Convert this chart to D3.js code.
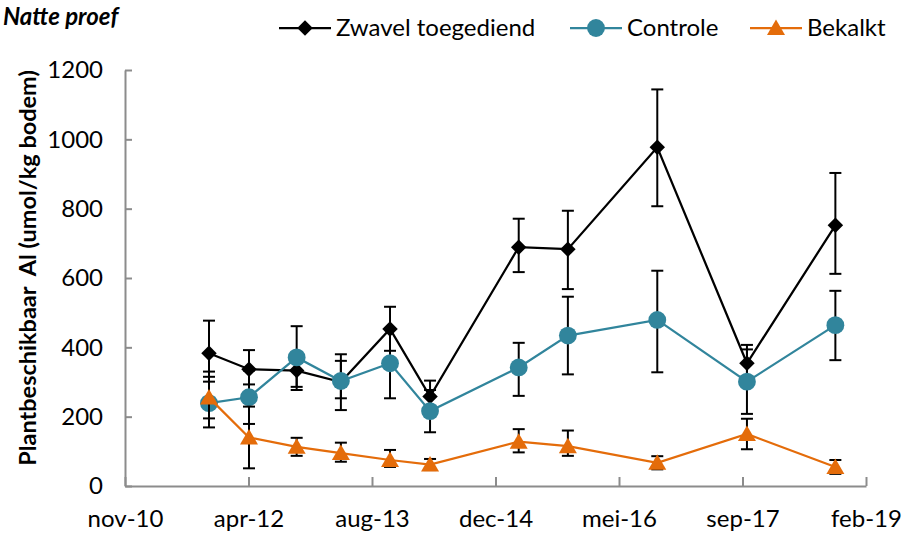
<!DOCTYPE html>
<html>
<head>
<meta charset="utf-8">
<script src="https://cdn.jsdelivr.net/npm/d3@7"></script>
<style>
  body { margin: 0; background: #fff; }
  text { font-family: Lato, "Open Sans", sans-serif; fill: #000; }
</style>
</head>
<body>
<div class="chart"></div>
<script>
// Natte proef - plantbeschikbaar Al per behandeling

// sampling dates
var sampleDates = ["2011-10-24", "2012-04-03", "2012-10-13", "2013-04-10", "2013-10-26", "2014-04-06",
                   "2015-03-31", "2015-10-16", "2016-10-12", "2017-10-10", "2018-10-03"];

// Zwavel toegediend
var zwavel     = [383, 337, 333, 300, 453, 258, 689, 683, 977, 354, 752];
var zwavelHigh = [477, 392, 382, 380, 517, 304, 771, 794, 1144, 407, 903];
var zwavelLow  = [301, 293, 286, 219, 390, 212, 617, 568, 807, 301, 612];

// Controle
var controle     = [239, 256, 371, 303, 354, 216, 342, 434, 479, 301, 464];
var controleHigh = [315, 333, 461, 361, 455, 277, 413, 546, 621, 394, 563];
var controleLow  = [169, 179, 277, 253, 253, 155, 260, 322, 328, 208, 363];

// Bekalkt
var bekalkt     = [255, 140, 113, 95, 75, 62, 128, 115, 67, 150, 55];
var bekalktHigh = [330, 229, 139, 125, 104, 78, 164, 160, 86, 194, 75];
var bekalktLow  = [195, 51, 87, 70, 55, 46, 97, 87, 48, 106, 35];

var seriesNames = ["Zwavel toegediend", "Controle", "Bekalkt"];
var xTickLabels = ["nov-10", "apr-12", "aug-13", "dec-14", "mei-16", "sep-17", "feb-19"];
var yTicks = [0, 200, 400, 600, 800, 1000, 1200];

var svgWidth = 906;
var svgHeight = 534;

var margin = { top: 70, right: 40, bottom: 48, left: 125 };
var width = 866 - margin.left;
var height = 486 - margin.top;

var svg = d3.select(".chart")
    .append("svg")
    .attr("width", svgWidth)
    .attr("height", svgHeight);

var chart = svg.append("g")
    .attr("transform", "translate(" + margin.left + "," + margin.top + ")");

var parseDate = d3.timeParse("%Y-%m-%d");
var dates = sampleDates.map(parseDate);

// excel style date axis: 500 day steps
var xStart = parseDate("2010-11-18");
var xTickValues = d3.range(xTickLabels.length).map(function(i) {
    return d3.timeDay.offset(xStart, 500 * i);
});

var xScale = d3.scaleTime()
    .domain([xStart, xTickValues[xTickValues.length - 1]])
    .range([0, width]);

var yScale = d3.scaleLinear()
    .domain([0, 1200])
    .range([height, 0]);

var axisColor = "#8c8c8c";

var bottomAxis = d3.axisBottom(xScale)
    .tickValues(xTickValues)
    .tickSizeInner(-9)
    .tickSizeOuter(0)
    .tickPadding(24)
    .tickFormat(function(d, i) { return xTickLabels[i]; });

var leftAxis = d3.axisLeft(yScale)
    .tickValues(yTicks)
    .tickSizeInner(-7)
    .tickSizeOuter(0)
    .tickPadding(22)
    .tickFormat(d3.format("d"));

var xAxisG = chart.append("g")
    .attr("class", "x-axis")
    .attr("transform", "translate(0," + height + ")")
    .call(bottomAxis);

var yAxisG = chart.append("g")
    .attr("class", "y-axis")
    .call(leftAxis);

[xAxisG, yAxisG].forEach(function(g) {
    g.select(".domain").attr("stroke", axisColor).attr("stroke-width", 2);
    g.selectAll(".tick line").attr("stroke", axisColor).attr("stroke-width", 2);
    g.selectAll(".tick text")
        .attr("font-size", "24px")
        .attr("font-family", "Lato, sans-serif")
        .attr("fill", "#000");
});

// y axis title
svg.append("text")
    .attr("transform", "translate(36," + (margin.top + height / 2 - 10) + ") rotate(-90)")
    .attr("text-anchor", "middle")
    .attr("font-size", "23.5px")
    .attr("font-weight", "bold")
    .style("white-space", "pre")
    .text("Plantbeschikbaar  Al (umol/kg bodem)");

// title
svg.append("text")
    .attr("x", 3)
    .attr("y", 25)
    .attr("font-size", "24px")
    .attr("font-weight", "bold")
    .attr("font-style", "italic")
    .text("Natte proef");

var series = [
    { name: seriesNames[0], values: zwavel, high: zwavelHigh, low: zwavelLow, color: "#000000", symbol: "diamond" },
    { name: seriesNames[1], values: controle, high: controleHigh, low: controleLow, color: "#31859c", symbol: "circle" },
    { name: seriesNames[2], values: bekalkt, high: bekalktHigh, low: bekalktLow, color: "#e46c0a", symbol: "triangle" }
];

function symbolPath(type) {
    if (type === "diamond") {
        return d3.symbol().type(d3.symbolSquare).size(120)();
    }
    if (type === "circle") {
        return d3.symbol().type(d3.symbolCircle).size(250)();
    }
    return "M0,-8.5L9,7L-9,7Z";
}

function symbolTransform(type, x, y) {
    if (type === "diamond") {
        return "translate(" + x + "," + y + ") rotate(45)";
    }
    return "translate(" + x + "," + y + ")";
}

var line = d3.line()
    .x(function(d) { return xScale(d.date); })
    .y(function(d) { return yScale(d.value); });

series.forEach(function(s) {

    var points = dates.map(function(date, i) {
        return { date: date, value: s.values[i], high: s.high[i], low: s.low[i] };
    });

    var g = chart.append("g").attr("class", "series");

    g.append("path")
        .datum(points)
        .attr("d", line)
        .attr("fill", "none")
        .attr("stroke", s.color)
        .attr("stroke-width", 2.25);

    // error bars (all black)
    var bars = g.selectAll(".errorbar")
        .data(points)
        .enter()
        .append("g")
        .attr("class", "errorbar");

    bars.append("line")
        .attr("x1", function(d) { return xScale(d.date); })
        .attr("x2", function(d) { return xScale(d.date); })
        .attr("y1", function(d) { return yScale(d.high); })
        .attr("y2", function(d) { return yScale(d.low); });

    bars.append("line")
        .attr("x1", function(d) { return xScale(d.date) - 6; })
        .attr("x2", function(d) { return xScale(d.date) + 6; })
        .attr("y1", function(d) { return yScale(d.high); })
        .attr("y2", function(d) { return yScale(d.high); });

    bars.append("line")
        .attr("x1", function(d) { return xScale(d.date) - 6; })
        .attr("x2", function(d) { return xScale(d.date) + 6; })
        .attr("y1", function(d) { return yScale(d.low); })
        .attr("y2", function(d) { return yScale(d.low); });

    bars.selectAll("line")
        .attr("stroke", "#000")
        .attr("stroke-width", 2);

    g.selectAll(".marker")
        .data(points)
        .enter()
        .append("path")
        .attr("class", "marker")
        .attr("d", symbolPath(s.symbol))
        .attr("transform", function(d) {
            return symbolTransform(s.symbol, xScale(d.date), yScale(d.value));
        })
        .attr("fill", s.color);
});

// legend
var legendX = [279, 570, 750];

var legend = svg.append("g").attr("class", "legend");

series.forEach(function(s, i) {
    var lg = legend.append("g")
        .attr("transform", "translate(" + legendX[i] + ",28)");

    lg.append("line")
        .attr("x1", 0)
        .attr("x2", 52)
        .attr("y1", 0)
        .attr("y2", 0)
        .attr("stroke", s.color)
        .attr("stroke-width", 2.25);

    lg.append("path")
        .attr("d", symbolPath(s.symbol))
        .attr("transform", symbolTransform(s.symbol, 26, 0))
        .attr("fill", s.color);

    lg.append("text")
        .attr("x", 57)
        .attr("y", 0)
        .attr("dy", "0.35em")
        .attr("font-size", "24px")
        .text(s.name);
});
</script>
</body>
</html>
